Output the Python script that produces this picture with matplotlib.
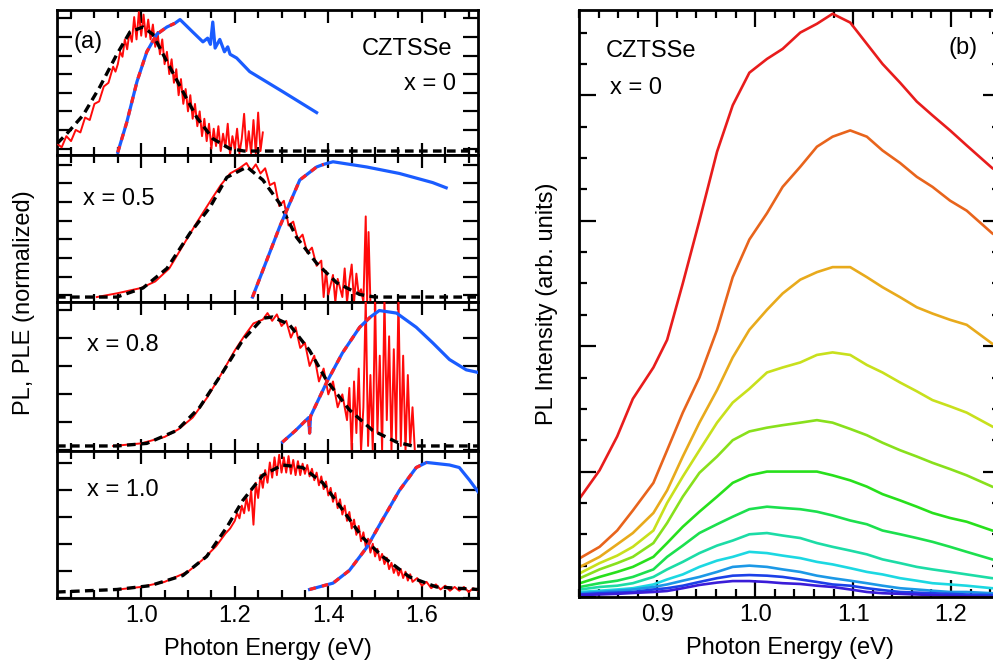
import matplotlib
matplotlib.use('Agg')
import numpy as np
import matplotlib.pyplot as plt
from matplotlib.ticker import MultipleLocator

#==========================================================
# Data (a) - PL (red), fit (black dashed), PLE (blue)
#==========================================================
# x = 0
pl0_e = [0.82, 0.83, 0.84, 0.85, 0.86, 0.87, 0.88, 0.89, 0.90, 0.91, 0.92, 0.93, 0.94, 0.945,
         0.95, 0.955, 0.96, 0.965, 0.97, 0.975, 0.98, 0.985, 0.99, 0.995, 1.00, 1.005, 1.01,
         1.015, 1.02, 1.025, 1.03, 1.035, 1.04, 1.045, 1.05, 1.055, 1.06, 1.065, 1.07, 1.075,
         1.08, 1.085, 1.09, 1.095, 1.10, 1.105, 1.11, 1.115, 1.12, 1.125, 1.13, 1.135, 1.14,
         1.145, 1.15, 1.155, 1.16, 1.165, 1.17, 1.175, 1.18, 1.185, 1.19, 1.195, 1.20, 1.205,
         1.21, 1.215, 1.22, 1.225, 1.23, 1.235, 1.24, 1.245, 1.25, 1.255, 1.26]
pl0_i = [0.06, 0.03, 0.12, 0.08, 0.17, 0.15, 0.27, 0.25, 0.38, 0.40, 0.52, 0.55, 0.68, 0.64,
         0.70, 0.80, 0.76, 0.90, 0.82, 0.96, 0.88, 1.08, 0.90, 1.12, 0.93, 1.10, 0.92,
         1.06, 0.90, 1.02, 0.84, 0.96, 0.78, 0.90, 0.70, 0.80, 0.62, 0.74, 0.55, 0.66,
         0.45, 0.58, 0.38, 0.50, 0.32, 0.45, 0.26, 0.38, 0.20, 0.32, 0.12, 0.26, 0.08,
         0.22, 0.02, 0.18, 0.04, 0.20, 0.00, 0.14, 0.03, 0.22, -0.03, 0.12, 0.02, 0.18,
         -0.02, 0.10, 0.30, 0.00, 0.16, -0.02, 0.25, -0.02, 0.31, 0.00, 0.15]
fit0_e = [0.82, 0.841, 0.876, 0.912, 0.948, 0.976, 1.004, 1.025, 1.055, 1.089, 1.119, 1.153,
          1.189, 1.22, 1.72]
fit0_i = [0.06, 0.14, 0.29, 0.52, 0.78, 0.96, 1.00, 0.94, 0.72, 0.48, 0.27, 0.10, 0.02, 0.0, 0.0]
ple0_e = [0.95, 0.969, 0.991, 1.012, 1.033, 1.055, 1.072, 1.083, 1.11, 1.132, 1.142, 1.148,
          1.153, 1.158, 1.168, 1.178, 1.185, 1.19, 1.204, 1.232, 1.302, 1.375]
ple0_i = [-0.01, 0.23, 0.56, 0.80, 0.94, 1.00, 1.03, 1.06, 0.96, 0.88, 0.91, 0.86, 1.04, 0.83,
          0.90, 0.80, 0.84, 0.78, 0.75, 0.64, 0.48, 0.31]

# x = 0.5
pl5_e = [0.905, 0.95, 1.00, 1.03, 1.06, 1.09, 1.12, 1.15, 1.17, 1.19, 1.21, 1.225, 1.235, 1.245,
         1.255, 1.265, 1.275, 1.285, 1.295, 1.305, 1.315, 1.325, 1.335, 1.345, 1.355, 1.365,
         1.375, 1.385, 1.39, 1.395, 1.40, 1.41, 1.415, 1.42, 1.43, 1.435, 1.44, 1.445, 1.45,
         1.455, 1.46, 1.465, 1.47, 1.475, 1.48, 1.483, 1.486, 1.49]
pl5_i = [0.0, 0.03, 0.07, 0.12, 0.22, 0.40, 0.58, 0.75, 0.86, 0.95, 0.99, 1.03, 0.97, 1.02,
         0.95, 0.99, 0.86, 0.88, 0.70, 0.74, 0.55, 0.58, 0.44, 0.48, 0.34, 0.38,
         0.24, 0.28, 0.0, 0.20, 0.02, 0.17, -0.04, 0.14, 0.0, 0.22, -0.04, 0.12, 0.25,
         -0.04, 0.18, 0.02, 0.06, -0.04, 0.62, -0.04, 0.50, -0.04]
fit5_e = [0.82, 0.948, 1.004, 1.055, 1.104, 1.147, 1.183, 1.226, 1.26, 1.296, 1.332, 1.375,
          1.418, 1.467, 1.50, 1.72]
fit5_i = [0.0, 0.0, 0.07, 0.22, 0.49, 0.69, 0.92, 1.00, 0.90, 0.72, 0.46, 0.26, 0.11, 0.02, 0.0, 0.0]
ple5_e = [1.238, 1.296, 1.339, 1.375, 1.39, 1.41, 1.482, 1.552, 1.623, 1.652]
ple5_i = [0.0, 0.54, 0.90, 1.00, 1.02, 1.04, 1.00, 0.95, 0.88, 0.84]

# x = 0.8
pl8_e = [0.94, 1.00, 1.05, 1.08, 1.11, 1.14, 1.17, 1.20, 1.22, 1.24, 1.26, 1.27, 1.28, 1.29,
         1.30, 1.31, 1.32, 1.33, 1.34, 1.35, 1.36, 1.37, 1.38, 1.39, 1.40, 1.41, 1.42, 1.43,
         1.44, 1.445, 1.45, 1.455, 1.46, 1.465, 1.47, 1.475, 1.48, 1.485, 1.49, 1.495, 1.50,
         1.505, 1.51, 1.515, 1.52, 1.525, 1.53, 1.535, 1.54, 1.545, 1.55, 1.555, 1.56, 1.565,
         1.57, 1.575, 1.58, 1.585]
pl8_i = [0.0, 0.02, 0.07, 0.13, 0.22, 0.37, 0.55, 0.74, 0.85, 0.95, 0.98, 1.03, 0.97, 1.02,
         0.93, 0.97, 0.84, 0.92, 0.76, 0.80, 0.62, 0.70, 0.50, 0.60, 0.40, 0.50, 0.30, 0.40,
         0.20, 0.45, -0.04, 0.50, 0.10, 0.60, -0.04, 0.30, 1.15, 0.0, 0.55, -0.04, 1.15,
         0.10, 0.70, -0.04, 1.15, 0.20, 0.85, -0.04, 0.75, 0.05, 1.15, 0.0, 0.70, -0.04,
         0.55, 0.0, 0.30, -0.04]
fit8_e = [0.82, 0.948, 1.012, 1.076, 1.125, 1.174, 1.217, 1.26, 1.281, 1.317, 1.36, 1.396,
          1.445, 1.495, 1.546, 1.58, 1.72]
fit8_i = [0.0, 0.0, 0.02, 0.12, 0.30, 0.57, 0.82, 0.99, 1.00, 0.94, 0.74, 0.51, 0.28, 0.12,
          0.03, 0.0, 0.0]
ple8_e = [1.302, 1.33, 1.358, 1.36, 1.362, 1.396, 1.43, 1.467, 1.49, 1.509, 1.546, 1.588,
          1.623, 1.659, 1.695, 1.72]
ple8_i = [0.03, 0.12, 0.22, 0.10, 0.23, 0.49, 0.72, 0.92, 1.00, 1.05, 1.03, 0.92, 0.80,
          0.67, 0.59, 0.57]

# x = 1.0
pl10_e = [0.95, 1.00, 1.05, 1.10, 1.13, 1.16, 1.18, 1.19, 1.20, 1.205, 1.21, 1.215, 1.22,
          1.225, 1.23, 1.235, 1.24, 1.245, 1.25, 1.255, 1.26, 1.265, 1.27, 1.275, 1.28, 1.285,
          1.29, 1.295, 1.30, 1.305, 1.31, 1.315, 1.32, 1.325, 1.33, 1.335, 1.34, 1.345, 1.35,
          1.355, 1.36, 1.365, 1.37, 1.375, 1.38, 1.385, 1.39, 1.395, 1.40, 1.405, 1.41, 1.415,
          1.42, 1.425, 1.43, 1.435, 1.44, 1.445, 1.45, 1.455, 1.46, 1.465, 1.47, 1.475, 1.48,
          1.485, 1.49, 1.495, 1.50, 1.505, 1.51, 1.515, 1.52, 1.525, 1.53, 1.535, 1.54, 1.545,
          1.55, 1.555, 1.56, 1.565, 1.57, 1.575, 1.58, 1.59, 1.60, 1.61, 1.62, 1.63, 1.64,
          1.65, 1.66, 1.67, 1.68, 1.69, 1.70, 1.71, 1.72]
pl10_i = [0.02, 0.04, 0.08, 0.16, 0.25, 0.36, 0.46, 0.50, 0.56, 0.62, 0.58, 0.68, 0.62,
          0.74, 0.64, 0.80, 0.53, 0.86, 0.74, 0.92, 0.82, 0.96, 0.86, 1.02, 0.90, 1.06,
          0.92, 1.08, 0.94, 1.06, 0.94, 1.07, 0.93, 1.04, 0.92, 1.03, 0.92, 1.01, 0.93,
          1.00, 0.91, 0.97, 0.88, 0.94, 0.84, 0.91, 0.81, 0.87, 0.76, 0.82, 0.71, 0.78,
          0.66, 0.73, 0.61, 0.68, 0.56, 0.63, 0.50, 0.57, 0.45, 0.52, 0.40, 0.47, 0.36,
          0.42, 0.31, 0.38, 0.28, 0.34, 0.25, 0.30, 0.22, 0.27, 0.18, 0.23, 0.15, 0.20,
          0.13, 0.18, 0.11, 0.16, 0.09, 0.14, 0.08, 0.11, 0.05, 0.08, 0.03, 0.06, 0.02,
          0.05, 0.01, 0.04, 0.01, 0.04, 0.00, 0.03, 0.01]
fit10_e = [0.82, 0.948, 1.019, 1.089, 1.14, 1.183, 1.217, 1.26, 1.302, 1.345, 1.388, 1.43,
           1.473, 1.516, 1.573, 1.631, 1.72]
fit10_i = [0.0, 0.02, 0.05, 0.13, 0.28, 0.51, 0.72, 0.92, 1.00, 0.98, 0.86, 0.65, 0.43,
           0.28, 0.12, 0.04, 0.02]
ple10_e = [1.36, 1.41, 1.445, 1.482, 1.516, 1.552, 1.588, 1.61, 1.659, 1.68, 1.702, 1.72]
ple10_i = [0.02, 0.07, 0.17, 0.35, 0.57, 0.80, 0.98, 1.02, 1.00, 0.98, 0.88, 0.79]

labels_a = ['x = 0', 'x = 0.5', 'x = 0.8', 'x = 1.0']
edge_cut = [1.072, 1.39, 1.49, 1.61]   # red dashed edge fit drawn on PLE up to here

#==========================================================
# Data (b) - PL spectra, x = 0, decreasing excitation
#==========================================================
e_b = [0.821, 0.841, 0.859, 0.875, 0.896, 0.910, 0.926, 0.943, 0.961, 0.977, 0.994, 1.012,
       1.028, 1.046, 1.063, 1.079, 1.097, 1.114, 1.130, 1.148, 1.165, 1.181, 1.199, 1.216,
       1.242, 1.25]
s_red = [0.79, 1.01, 1.28, 1.58, 1.83, 2.05, 2.50, 3.00, 3.55, 3.92, 4.18, 4.29, 4.37, 4.50,
         4.57, 4.65, 4.58, 4.41, 4.25, 4.10, 3.95, 3.84, 3.72, 3.60, 3.42, 3.38]
s_orange = [0.31, 0.40, 0.53, 0.69, 0.91, 1.17, 1.47, 1.75, 2.13, 2.55, 2.85, 3.06, 3.27,
            3.43, 3.59, 3.67, 3.72, 3.67, 3.56, 3.46, 3.35, 3.27, 3.16, 3.08, 2.90, 2.86]
s_gold = [0.24, 0.32, 0.42, 0.51, 0.67, 0.85, 1.12, 1.39, 1.65, 1.91, 2.13, 2.29, 2.42, 2.53,
          2.59, 2.63, 2.63, 2.55, 2.47, 2.39, 2.31, 2.26, 2.21, 2.17, 2.02, 2.00]
s_ygreen = [0.19, 0.27, 0.33, 0.40, 0.53, 0.75, 0.96, 1.17, 1.39, 1.55, 1.66, 1.79, 1.83,
            1.87, 1.93, 1.95, 1.93, 1.85, 1.79, 1.71, 1.64, 1.57, 1.52, 1.47, 1.36, 1.33]
s_lime = [0.15, 0.22, 0.27, 0.32, 0.43, 0.59, 0.80, 0.99, 1.12, 1.25, 1.32, 1.35, 1.37,
          1.39, 1.41, 1.39, 1.34, 1.29, 1.23, 1.17, 1.12, 1.07, 1.02, 0.97, 0.88, 0.86]
s_green = [0.11, 0.16, 0.20, 0.24, 0.32, 0.43, 0.56, 0.68, 0.80, 0.91, 0.97, 1.00, 1.00,
           1.00, 1.00, 0.97, 0.93, 0.88, 0.82, 0.77, 0.72, 0.67, 0.63, 0.60, 0.53, 0.52]
s_mgreen = [0.08, 0.11, 0.13, 0.16, 0.22, 0.32, 0.41, 0.51, 0.58, 0.64, 0.70, 0.72, 0.71,
            0.70, 0.68, 0.65, 0.61, 0.58, 0.53, 0.50, 0.47, 0.44, 0.40, 0.36, 0.30, 0.29]
s_teal = [0.06, 0.08, 0.09, 0.11, 0.16, 0.22, 0.28, 0.35, 0.41, 0.45, 0.50, 0.51, 0.49,
          0.47, 0.43, 0.40, 0.37, 0.34, 0.30, 0.27, 0.24, 0.22, 0.20, 0.18, 0.15, 0.15]
s_cyan = [0.04, 0.05, 0.06, 0.07, 0.10, 0.14, 0.18, 0.24, 0.29, 0.32, 0.36, 0.35, 0.33,
          0.31, 0.28, 0.26, 0.23, 0.20, 0.18, 0.15, 0.13, 0.11, 0.10, 0.09, 0.07, 0.07]
s_lblue = [0.03, 0.04, 0.05, 0.06, 0.08, 0.10, 0.13, 0.16, 0.20, 0.24, 0.25, 0.24, 0.22,
           0.20, 0.17, 0.15, 0.13, 0.11, 0.09, 0.07, 0.06, 0.05, 0.04, 0.04, 0.03, 0.03]
s_blue = [0.02, 0.03, 0.035, 0.04, 0.06, 0.07, 0.09, 0.12, 0.15, 0.17, 0.175, 0.17, 0.16,
          0.14, 0.12, 0.10, 0.09, 0.07, 0.055, 0.04, 0.035, 0.03, 0.025, 0.02, 0.016, 0.015]
s_indigo = [0.016, 0.02, 0.025, 0.032, 0.04, 0.048, 0.07, 0.096, 0.115, 0.127, 0.127, 0.12,
            0.11, 0.104, 0.09, 0.08, 0.06, 0.04, 0.03, 0.025, 0.02, 0.015, 0.01, 0.005, 0.0, 0.0]

spectra_b = [s_red, s_orange, s_gold, s_ygreen, s_lime, s_green, s_mgreen, s_teal,
             s_cyan, s_lblue, s_blue, s_indigo]
colors_b = ['#e81c1c', '#e8641c', '#e8aa1c', '#c8e01c', '#88e01c', '#28e01c', '#1ce04e',
            '#1cdca6', '#1cd8e2', '#1c98e6', '#1c40e8', '#3a1cd8']

#==========================================================
# plot
#==========================================================
plt.rcParams['font.family'] = ['Liberation Sans', 'DejaVu Sans']
plt.rcParams['font.size'] = 17
W, H = 993., 664.
fig = plt.figure(figsize=(W/100, H/100), dpi=100)

def fx(px):
    return px/W

def fy(py):
    return 1 - py/H

tick_kw = dict(direction='in', top=True, right=True, width=1.6, color='black')

#==========================================================
# panel (a) - four stacked panels
#==========================================================
pl_all = [(pl0_e, pl0_i), (pl5_e, pl5_i), (pl8_e, pl8_i), (pl10_e, pl10_i)]
fit_all = [(fit0_e, fit0_i), (fit5_e, fit5_i), (fit8_e, fit8_i), (fit10_e, fit10_i)]
ple_all = [(ple0_e, ple0_i), (ple5_e, ple5_i), (ple8_e, ple8_i), (ple10_e, ple10_i)]
rows = [(10, 155), (155, 302), (302, 451), (451, 598)]
ylims = [(-0.032, 1.137), (-0.038, 1.092), (-0.039, 1.116), (-0.047, 1.110)]
yt = [np.arange(0.019, 1.13, 0.15), np.arange(0.015, 1.09, 0.143),
      np.arange(-0.031, 1.11, 0.217), np.arange(-0.045, 1.10, 0.212)]

for k in range(4):
    t, b = rows[k]
    ax = fig.add_axes([fx(57), fy(b), fx(478) - fx(57), (b - t)/H])
    ax.plot(pl_all[k][0], pl_all[k][1], color='#ff0a0a', lw=1.4, zorder=3)
    ax.plot(fit_all[k][0], fit_all[k][1], color='black', lw=2.4, dashes=(2.6, 1.6), zorder=4)
    ax.plot(ple_all[k][0], ple_all[k][1], color='#1a5cff', lw=2.3, zorder=5)
    ee = np.array(ple_all[k][0])
    ii = np.array(ple_all[k][1])
    m = ee <= edge_cut[k] + 1e-6
    ax.plot(ee[m], ii[m], color='#ff2020', lw=2.3, dashes=(2, 2), zorder=6)

    ax.set_xlim(0.82, 1.72)
    ax.set_ylim(ylims[k])
    ax.xaxis.set_major_locator(MultipleLocator(0.2))
    ax.xaxis.set_minor_locator(MultipleLocator(0.05))
    ax.set_yticks(yt[k])
    ax.set_yticklabels([])
    ax.tick_params(axis='x', which='major', length=9, **tick_kw)
    ax.tick_params(axis='x', which='minor', length=6, **tick_kw)
    ax.tick_params(axis='y', which='major', length=11, **tick_kw)
    ax.tick_params(axis='x', labelsize=17, pad=5)
    for s in ax.spines.values():
        s.set_linewidth(2.0)
    if k < 3:
        ax.set_xticklabels([])
    else:
        ax.set_xlabel('Photon Energy (eV)', fontsize=17, labelpad=8)

fig.text(fx(24), fy(303), 'PL, PLE (normalized)', rotation=90, ha='center', va='center', fontsize=17)
fig.text(fx(88), fy(42), '(a)', ha='center', va='center', fontsize=17)
fig.text(fx(452), fy(49), 'CZTSSe', ha='right', va='center', fontsize=17)
fig.text(fx(456), fy(84), labels_a[0], ha='right', va='center', fontsize=17)
fig.text(fx(83), fy(199), labels_a[1], ha='left', va='center', fontsize=17)
fig.text(fx(87), fy(345), labels_a[2], ha='left', va='center', fontsize=17)
fig.text(fx(87), fy(490), labels_a[3], ha='left', va='center', fontsize=17)

#==========================================================
# panel (b) - PL intensity spectra
#==========================================================
axb = fig.add_axes([fx(579), fy(597), fx(1000) - fx(579), (597 - 10)/H])
for s, c in zip(spectra_b, colors_b):
    axb.plot(e_b, s, color=c, lw=1.9)
axb.set_xlim(0.82, 1.25)
axb.set_ylim(0, 4.68)
axb.xaxis.set_major_locator(MultipleLocator(0.1))
axb.xaxis.set_minor_locator(MultipleLocator(0.02))
axb.yaxis.set_major_locator(MultipleLocator(1.0))
axb.yaxis.set_minor_locator(MultipleLocator(0.25))
axb.set_yticklabels([])
axb.tick_params(which='major', length=12, **tick_kw)
axb.tick_params(which='minor', length=6, **tick_kw)
axb.tick_params(axis='x', labelsize=17, pad=5)
for s in axb.spines.values():
    s.set_linewidth(2.0)
axb.set_xlabel('Photon Energy (eV)', fontsize=17, labelpad=8)

fig.text(fx(547), fy(304), 'PL Intensity (arb. units)', rotation=90, ha='center', va='center', fontsize=17)
fig.text(fx(606), fy(51), 'CZTSSe', ha='left', va='center', fontsize=17)
fig.text(fx(610), fy(88), 'x = 0', ha='left', va='center', fontsize=17)
fig.text(fx(963), fy(48), '(b)', ha='center', va='center', fontsize=17)

plt.savefig('out.png', dpi=100)
